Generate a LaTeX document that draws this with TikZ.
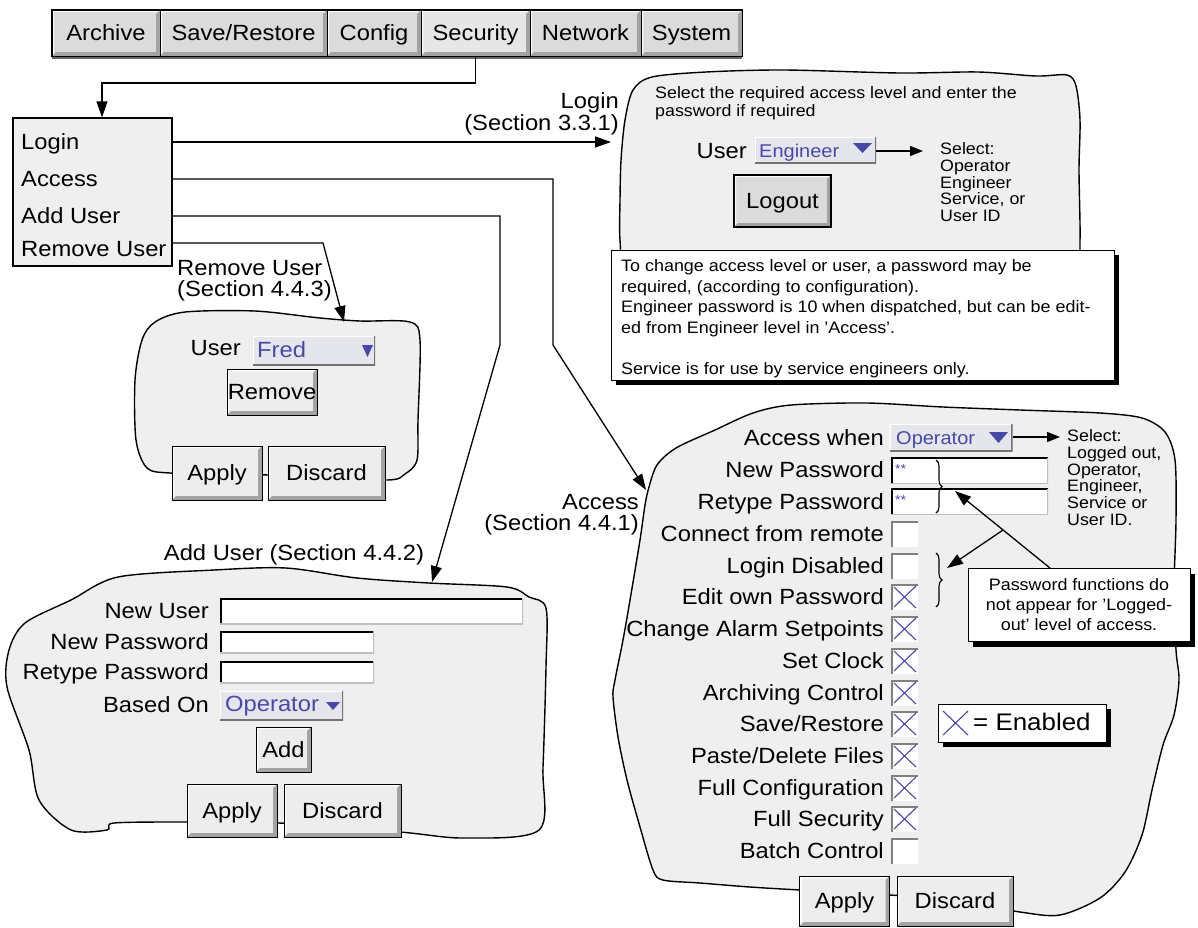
\documentclass[tikz,border=0pt]{standalone}
\usepackage{fontspec}
\setmainfont[FakeStretch=1.08]{Liberation Sans}
\usetikzlibrary{arrows.meta,shadows,decorations.pathreplacing}
\definecolor{blobfill}{HTML}{EFEFEF}
\definecolor{btnfill}{HTML}{EDEDED}
\definecolor{menufill}{HTML}{DBDBDB}
\definecolor{selfill}{HTML}{E6E6E6}
\definecolor{bevelgray}{HTML}{A3A3A3}
\definecolor{ddfill}{HTML}{E5E5EC}
\definecolor{selblue}{HTML}{4848A8}
\newcommand\fMain{\fontsize{22}{26}\selectfont}
\newcommand\fDD{\fontsize{18.5}{22}\selectfont}
\newcommand\fSmall{\fontsize{16.5}{17}\selectfont}
\newcommand\fNote{\fontsize{16.6}{20}\selectfont}
\newcommand\fBig{\fontsize{24}{28}\selectfont}
\newcommand\fStar{\fontsize{13}{13}\selectfont}
\tikzset{
  txt/.style={inner sep=0pt, font=\fMain, text height=15.8pt, text depth=0pt},
  sm/.style={inner sep=0pt, font=\fSmall, text height=11.8pt, text depth=0pt},
  nt/.style={inner sep=0pt, font=\fNote, text height=12pt, text depth=0pt},
  ddtext/.style={inner sep=0pt, font=\fDD, text=selblue, text height=13.3pt, text depth=0pt},
  blob/.style={draw=black, line width=1.4pt, fill=blobfill},
  link/.style={line width=1.3pt, -{Triangle[length=16pt,width=11pt]}},
  shortlink/.style={line width=1.3pt, -{Triangle[length=13pt,width=10pt]}},
  bevelbox/.style={path picture={
    \fill[white] (path picture bounding box.south west) -- (path picture bounding box.north west) -- (path picture bounding box.north east) -- ([shift={(-2pt,-2pt)}]path picture bounding box.north east) -- ([shift={(2pt,-2pt)}]path picture bounding box.north west) -- ([shift={(2pt,2pt)}]path picture bounding box.south west) -- cycle;
    \fill[bevelgray] (path picture bounding box.south west) -- (path picture bounding box.south east) -- (path picture bounding box.north east) -- ([shift={(-4pt,-4pt)}]path picture bounding box.north east) -- ([shift={(-4pt,4pt)}]path picture bounding box.south east) -- ([shift={(4pt,4pt)}]path picture bounding box.south west) -- cycle;}},
  button/.style={txt, draw=black, line width=0.9pt, fill=btnfill, bevelbox},
  menubtn/.style={button, fill=menufill, minimum height=46pt},
  field/.style={inner sep=0pt, fill=white, path picture={
    \draw[black, line width=3pt] (path picture bounding box.south west) -- (path picture bounding box.north west) -- (path picture bounding box.north east);
    \draw[black!25, line width=2pt] (path picture bounding box.south west) -- (path picture bounding box.south east) -- (path picture bounding box.north east);}},
  dropdown/.style={inner sep=0pt, fill=ddfill, path picture={
    \draw[white, line width=2pt] (path picture bounding box.south west) -- (path picture bounding box.north west) -- (path picture bounding box.north east);
    \draw[black!55, line width=2.5pt] (path picture bounding box.south west) -- (path picture bounding box.south east) -- (path picture bounding box.north east);}},
  chk/.style={inner sep=0pt, fill=white, minimum width=27pt, minimum height=26pt, path picture={
    \draw[black!50, line width=3pt] (path picture bounding box.south west) -- (path picture bounding box.north west) -- (path picture bounding box.north east);}},
  xchk/.style={chk, path picture={
    \draw[black!50, line width=3pt] (path picture bounding box.south west) -- (path picture bounding box.north west) -- (path picture bounding box.north east);
    \draw[selblue, line width=1.1pt] ([shift={(3pt,3pt)}]path picture bounding box.south west) -- ([shift={(-2pt,-2pt)}]path picture bounding box.north east) ([shift={(3pt,-3pt)}]path picture bounding box.north west) -- ([shift={(-2pt,2pt)}]path picture bounding box.south east);}},
  shadowbox/.style={draw=black, line width=0.9pt, fill=white, inner sep=0pt, drop shadow={shadow xshift=5pt, shadow yshift=-5pt, fill=black, opacity=1}},
  brc/.style={decorate, decoration={brace, amplitude=6pt}, line width=1.1pt},
}
\begin{document}
\begin{tikzpicture}[x=1pt,y=-1pt]
\useasboundingbox (0,0) rectangle (1198,927);
\fill[white] (0,0) rectangle (1198,927);

% ---------- blobs ----------
\draw[blob] plot[smooth cycle] coordinates {(633,90) (652,77) (706,72) (784,70) (900,73) (978,72) (1036,76) (1067,75) (1076,86) (1080,120) (1079,170) (1080,240) (1076,272) (1040,292) (665,292) (626,272) (620,240) (620,200) (621,160) (625,120)};
\draw[blob] plot[smooth cycle] coordinates {(155,322) (185,312) (255,311) (320,318) (360,321) (410,322) (420,340) (418,420) (417,460) (405,474) (387,480) (300,476) (230,474) (170,473) (147,468) (136,440) (135,380) (142,340)};
\draw[blob] plot[smooth cycle] coordinates {(118,577) (214,570) (286,568) (357,578) (429,583) (507,587) (529,597) (546,608) (546,667) (543,767) (539,830) (464,838) (400,832) (279,823) (186,822) (114,823) (107,830) (71,830) (39,800) (29,750) (7,687) (9,650) (25,623) (71,600)};
\draw[blob] plot[smooth cycle] coordinates {(649,487) (657,465) (676,448) (715,430) (753,413) (791,405) (867,403) (943,407) (1020,410) (1100,413) (1142,418) (1165,432) (1175,460) (1176,520) (1174,590) (1176,650) (1179,680) (1174,715) (1163,745) (1152,790) (1142,835) (1125,872) (1100,898) (1060,915) (1020,912) (950,900) (890,895) (800,890) (750,887) (700,883) (663,880) (653,870) (640,827) (627,780) (618,737) (613,697) (615,680) (623,640) (630,600) (640,540) (645,505)};

% ---------- menu bar ----------
\node[menubtn, minimum width=108pt] (mArchive) at (106,33) {Archive};
\node[menubtn, minimum width=167pt] (mSave) at (243.5,33) {Save/Restore};
\node[menubtn, minimum width=94pt] (mConfig) at (374,33) {Config};
\node[menubtn, fill=selfill, minimum width=109pt] (mSecurity) at (475.5,33) {Security};
\node[menubtn, minimum width=111pt] (mNetwork) at (585.5,33) {Network};
\node[menubtn, minimum width=101pt] (mSystem) at (691.5,33) {System};
\draw[line width=1pt] (mArchive.north west) rectangle (mSystem.south east);
\draw[black!60, line width=2pt] ([yshift=-1.5pt]mArchive.south west) -- ([yshift=-1.5pt]mSystem.south east);

% ---------- security menu ----------
\node[draw=black, line width=1.3pt, fill=blobfill, minimum width=159pt, minimum height=148pt, inner sep=0pt] (menu) at (92.5,192) {};
\node[txt, anchor=west] (iLogin) at (21,142) {Login};
\node[txt, anchor=west] (iAccess) at (21,179) {Access};
\node[txt, anchor=west] (iAdd) at (21,216) {Add User};
\node[txt, anchor=west] (iRemove) at (21,249) {Remove User};

% ---------- connectors ----------
\coordinate (secTurn) at (102,83);
\draw[link] (mSecurity.south) |- (secTurn) -- (secTurn |- menu.north);
\coordinate (loginTip) at (611,142);
\draw[link] (menu.east |- loginTip) -- (loginTip);
\coordinate (accTurn) at (553,345);
\coordinate (accTip) at (646,490);
\draw[link] (menu.east |- iAccess) -| (accTurn) -- (accTip);
\coordinate (addTurn) at (500,345);
\coordinate (addTip) at (432,582);
\draw[link] (menu.east |- iAdd) -| (addTurn) -- (addTip);
\coordinate (remTurn) at (323,243);
\coordinate (remTip) at (344,322);
\draw[link] (menu.east |- remTurn) -- (remTurn) -- (remTip);

% ---------- login panel ----------
\node[txt, anchor=east] (lblLogin) at (619,101) {Login};
\node[txt, anchor=east] (lblLoginS) at (619,123) {(Section 3.3.1)};
\node[sm, anchor=west] (lSel1) at (655,93) {Select the required access level and enter the};
\node[sm, anchor=west] (lSel2) at (655,111) {password if required};
\node[txt, anchor=east] (lUser) at (747,151) {User};
\node[dropdown, minimum width=121pt, minimum height=26pt] (lDD) at (815.5,150) {};
\node[ddtext, anchor=west] (lDDt) at (759,151) {Engineer};
\fill[selblue] (853,143) -- (872,143) -- (862.5,153) -- cycle;
\coordinate (lSelTip) at (923,151);
\draw[shortlink] (lDD.east |- lSelTip) -- (lSelTip);
\node[sm, anchor=west] (lS1) at (940,149) {Select:};
\node[sm, anchor=west] (lS2) at (940,166) {Operator};
\node[sm, anchor=west] (lS3) at (940,183) {Engineer};
\node[sm, anchor=west] (lS4) at (940,199) {Service, or};
\node[sm, anchor=west] (lS5) at (940,216) {User ID};
\node[button, line width=2pt, fill=menufill, minimum width=97pt, minimum height=52pt] (logout) at (782.5,201) {Logout};

\node[shadowbox, minimum width=503pt, minimum height=130pt] (note) at (862.5,315) {};
\node[nt, anchor=west] (n1) at (621,265) {To change access level or user, a password may be};
\node[nt, anchor=west] (n2) at (621,286) {required, (according to configuration).};
\node[nt, anchor=west] (n3) at (621,306.5) {Engineer password is 10 when dispatched, but can be edit-};
\node[nt, anchor=west] (n4) at (621,327) {ed from Engineer level in 'Access'.};
\node[nt, anchor=west] (n5) at (621,368) {Service is for use by service engineers only.};

% ---------- remove user ----------
\node[txt, anchor=west] (lblRem) at (177,268) {Remove User};
\node[txt, anchor=west] (lblRemS) at (177,289) {(Section 4.4.3)};
\node[txt, anchor=east] (rUser) at (241,348) {User};
\node[dropdown, minimum width=122pt, minimum height=29pt] (rDD) at (314,350.5) {};
\node[txt, anchor=west, text=selblue] (rDDt) at (257,350) {Fred};
\fill[selblue] (362,345) -- (373,345) -- (367.5,357) -- cycle;
\node[button, minimum width=90pt, minimum height=46pt] (rRemove) at (272,392) {Remove};
\node[button, minimum width=90pt, minimum height=54pt] (rApply) at (217,473) {Apply};
\node[button, minimum width=117pt, minimum height=54pt] (rDiscard) at (326.5,473) {Discard};

% ---------- add user ----------
\node[txt] (lblAdd) at (294,553) {Add User (Section 4.4.2)};
\node[txt, anchor=east] (aL1) at (209,611) {New User};
\node[txt, anchor=east] (aL2) at (209,642) {New Password};
\node[txt, anchor=east] (aL3) at (209,672) {Retype Password};
\node[txt, anchor=east] (aL4) at (209,705) {Based On};
\node[field, minimum width=303pt, minimum height=26pt] (aUserF) at (371.5,611) {};
\node[field, minimum width=154pt, minimum height=22pt] (aPwF) at (297,642) {};
\node[field, minimum width=154pt, minimum height=22pt] (aRpF) at (297,672) {};
\node[dropdown, minimum width=123pt, minimum height=29pt] (aDD) at (281.5,705.5) {};
\node[txt, anchor=west, text=selblue] (aDDt) at (225,704) {Operator};
\fill[selblue] (326,702) -- (340,702) -- (333,710) -- cycle;
\node[button, minimum width=55pt, minimum height=45pt] (aAdd) at (283.5,749.5) {Add};
\node[button, minimum width=90pt, minimum height=53pt] (aApply) at (232,810.5) {Apply};
\node[button, minimum width=117pt, minimum height=53pt] (aDiscard) at (342.5,810.5) {Discard};

% ---------- access ----------
\node[txt, anchor=east] (lblAcc) at (639,502) {Access};
\node[txt, anchor=east] (lblAccS) at (639,523) {(Section 4.4.1)};

\node[txt, anchor=east] (x0) at (884,438) {Access when};
\node[txt, anchor=east] (x1) at (884,470) {New Password};
\node[txt, anchor=east] (x2) at (884,502) {Retype Password};
\node[txt, anchor=east] (x3) at (884,534) {Connect from remote};
\node[txt, anchor=east] (x4) at (884,566) {Login Disabled};
\node[txt, anchor=east] (x5) at (884,597) {Edit own Password};
\node[txt, anchor=east] (x6) at (884,629) {Change Alarm Setpoints};
\node[txt, anchor=east] (x7) at (884,661) {Set Clock};
\node[txt, anchor=east] (x8) at (884,693) {Archiving Control};
\node[txt, anchor=east] (x9) at (884,724) {Save/Restore};
\node[txt, anchor=east] (x10) at (884,756) {Paste/Delete Files};
\node[txt, anchor=east] (x11) at (884,788) {Full Configuration};
\node[txt, anchor=east] (x12) at (884,819) {Full Security};
\node[txt, anchor=east] (x13) at (884,851) {Batch Control};

\node[dropdown, minimum width=123pt, minimum height=27pt] (xDD) at (951,437.5) {};
\node[ddtext, anchor=west] (xDDt) at (896,438) {Operator};
\fill[selblue] (989,432) -- (1008,432) -- (998.5,443) -- cycle;
\coordinate (xSelTip) at (1060,437);
\draw[shortlink] (xDD.east |- xSelTip) -- (xSelTip);
\node[sm, anchor=west] (xs1) at (1067,436) {Select:};
\node[sm, anchor=west] (xs2) at (1067,453) {Logged out,};
\node[sm, anchor=west] (xs3) at (1067,470) {Operator,};
\node[sm, anchor=west] (xs4) at (1067,486) {Engineer,};
\node[sm, anchor=west] (xs5) at (1067,503) {Service or};
\node[sm, anchor=west] (xs6) at (1067,520) {User ID.};

\node[field, minimum width=157pt, minimum height=26pt] (xPw) at (969.5,470.5) {};
\node[field, minimum width=157pt, minimum height=26pt] (xRp) at (969.5,501.5) {};
\node[inner sep=0pt, font=\fStar, text=selblue, anchor=west] (xPwS) at (895,469) {**};
\node[inner sep=0pt, font=\fStar, text=selblue, anchor=west] (xRpS) at (895,500) {**};

\node[chk] (c3) at (904.5,534) {};
\node[chk] (c4) at (904.5,566) {};
\node[xchk] (c5) at (904.5,597) {};
\node[xchk] (c6) at (904.5,629) {};
\node[xchk] (c7) at (904.5,661) {};
\node[xchk] (c8) at (904.5,693) {};
\node[xchk] (c9) at (904.5,724) {};
\node[xchk] (c10) at (904.5,756) {};
\node[xchk] (c11) at (904.5,788) {};
\node[xchk] (c12) at (904.5,819) {};
\node[chk] (c13) at (904.5,851) {};

\draw[brc] (936,460) -- (936,513);
\draw[brc] (936,553) -- (936,607);

\node[shadowbox, minimum width=222pt, minimum height=73pt] (pwNote) at (1079,605) {};
\node[nt] (pw1) at (1079,584) {Password functions do};
\node[nt] (pw2) at (1079,604) {not appear for 'Logged-};
\node[nt] (pw3) at (1079,624) {out' level of access.};
\coordinate (pwTip1) at (955,491);
\coordinate (pwFork) at (1003,530);
\coordinate (pwTip2) at (947,568);
\draw[link] ([xshift=-29pt]pwNote.north) -- (pwTip1);
\draw[link] (pwFork) -- (pwTip2);

\node[shadowbox, minimum width=168pt, minimum height=38pt] (enBox) at (1022,723) {};
\draw[selblue, line width=1.1pt] (943,711) -- (968,735) (943,735) -- (968,711);
\node[inner sep=0pt, font=\fBig, text height=17pt, text depth=0pt, anchor=west] (enTxt) at (973,722) {= Enabled};

\node[button, minimum width=90pt, minimum height=50pt] (xApply) at (844.5,901) {Apply};
\node[button, minimum width=116pt, minimum height=50pt] (xDiscard) at (955,901) {Discard};
\end{tikzpicture}
\end{document}
